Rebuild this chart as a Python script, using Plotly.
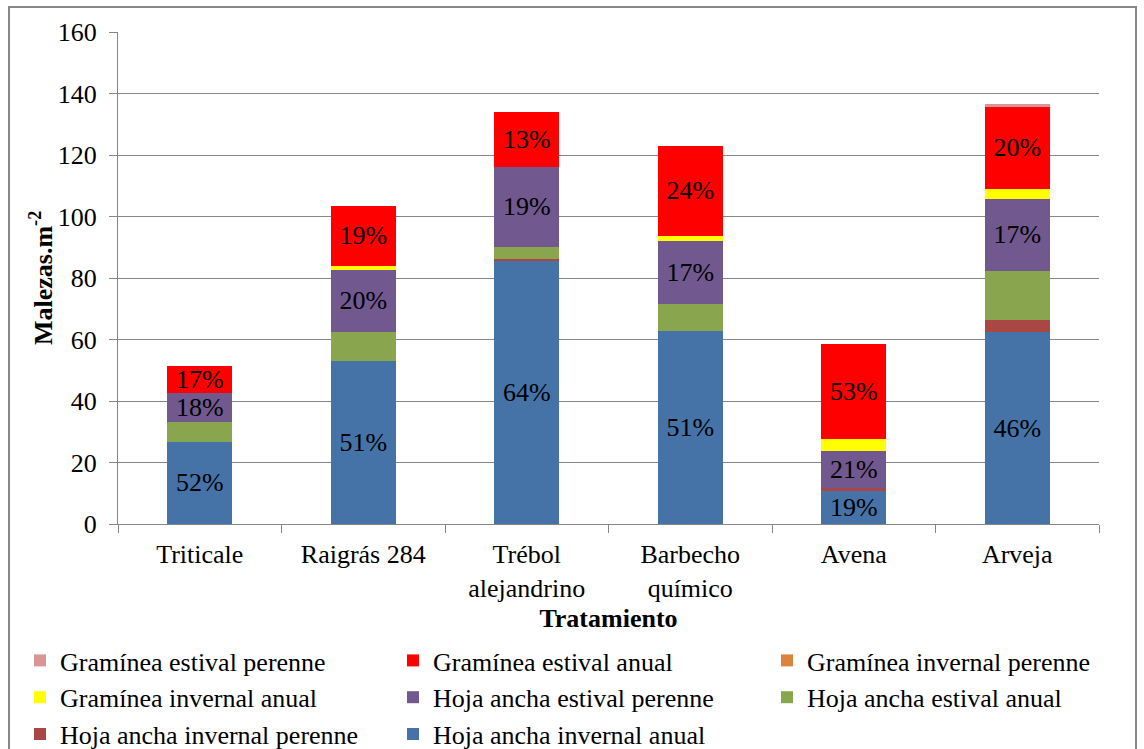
import plotly.graph_objects as go

# Treatments (x categories)
tratamientos = ["Triticale", "Raigrás 284", "Trébol<br>alejandrino",
                "Barbecho<br>químico", "Avena", "Arveja"]

# Weed density (malezas/m²) by functional group, stacked bottom to top
hoja_ancha_invernal_anual = [26.8, 53.0, 85.6, 62.9, 11.0, 62.4]
hoja_ancha_invernal_perenne = [0.0, 0.0, 0.7, 0.0, 0.6, 4.1]
hoja_ancha_estival_anual = [6.4, 9.4, 3.9, 8.6, 0.0, 15.9]
hoja_ancha_estival_perenne = [9.3, 20.3, 26.0, 20.5, 12.2, 23.2]
graminea_invernal_anual = [0.0, 1.2, 0.0, 1.8, 3.8, 3.3]
graminea_invernal_perenne = [0.0, 0.0, 0.0, 0.0, 0.0, 0.0]
graminea_estival_anual = [8.9, 19.6, 17.9, 29.2, 31.1, 26.8]
graminea_estival_perenne = [0.0, 0.0, 0.0, 0.0, 0.0, 1.0]

# (name, values, colour, show % label, legend column, rank within column)
series = [
    ("Hoja ancha invernal anual", hoja_ancha_invernal_anual, "#4572A7", True, "legend2", 3),
    ("Hoja ancha invernal perenne", hoja_ancha_invernal_perenne, "#AA4643", False, "legend", 3),
    ("Hoja ancha estival anual", hoja_ancha_estival_anual, "#89A54E", False, "legend3", 2),
    ("Hoja ancha estival perenne", hoja_ancha_estival_perenne, "#71588F", True, "legend2", 2),
    ("Gramínea invernal anual", graminea_invernal_anual, "#FFFF00", False, "legend", 2),
    ("Gramínea invernal perenne", graminea_invernal_perenne, "#DB843D", False, "legend3", 1),
    ("Gramínea estival anual", graminea_estival_anual, "#FF0000", True, "legend2", 1),
    ("Gramínea estival perenne", graminea_estival_perenne, "#D99694", False, "legend", 1),
]

totales = [sum(s[1][i] for s in series) for i in range(len(tratamientos))]

FONT = "Liberation Serif"

fig = go.Figure()
for nombre, valores, color, etiqueta, leyenda, rango in series:
    texto = None
    if etiqueta:
        texto = [f"{round(v / t * 100):.0f}%" for v, t in zip(valores, totales)]
    fig.add_trace(go.Bar(
        name=nombre,
        x=tratamientos,
        y=valores,
        marker=dict(color=color, line=dict(width=0)),
        text=texto,
        textposition="inside" if etiqueta else "none",
        insidetextanchor="middle",
        textangle=0,
        textfont=dict(family=FONT, size=26, color="black"),
        constraintext="none",
        legend=leyenda,
        legendrank=rango,
    ))


def columna_leyenda(x_px):
    return dict(
        orientation="v",
        traceorder="normal",
        xref="container", x=x_px / 1144, xanchor="left",
        yref="container", y=1 - 637 / 749, yanchor="top",
        itemwidth=30,
        font=dict(family=FONT, size=26, color="black"),
        tracegroupgap=0,
        bgcolor="rgba(0,0,0,0)",
    )


fig.update_layout(
    barmode="stack",
    bargap=0.6,
    width=1144,
    height=749,
    margin=dict(l=118, r=45, t=32, b=225, autoexpand=False),
    paper_bgcolor="white",
    plot_bgcolor="white",
    font=dict(family=FONT, size=26, color="black"),
    legend=columna_leyenda(20),
    legend2=columna_leyenda(393),
    legend3=columna_leyenda(767),
    xaxis=dict(
        showline=True, linecolor="#878787", linewidth=1,
        ticks="outside", tickson="boundaries", ticklen=8,
        tickcolor="#878787", ticklabelstandoff=7,
        tickfont=dict(family=FONT, size=26),
        title=dict(text="<b>Tratamiento</b>", standoff=6,
                   font=dict(family=FONT, size=26)),
    ),
    yaxis=dict(
        range=[0, 160], dtick=20,
        showline=True, linecolor="#878787", linewidth=1,
        showgrid=True, gridcolor="#878787", gridwidth=1,
        ticks="outside", ticklen=8, tickcolor="#878787",
        ticklabelstandoff=7,
        tickfont=dict(family=FONT, size=26),
        zeroline=False,
    ),
    annotations=[dict(
        text="<b>Malezas.m<sup>-2</sup></b>",
        xref="paper", yref="paper",
        x=(41 - 118) / 981, y=0.5,
        xanchor="center", yanchor="middle",
        textangle=-90, showarrow=False,
        font=dict(family=FONT, size=26, color="black"),
    )],
    shapes=[dict(
        type="rect", xref="paper", yref="paper",
        x0=(9 - 118) / 981, x1=(1136 - 118) / 981,
        y0=-0.6, y1=(524 - 7) / 492,
        line=dict(color="#878787", width=2), fillcolor="rgba(0,0,0,0)",
        layer="below",
    )],
)

fig.write_html("out.html")
